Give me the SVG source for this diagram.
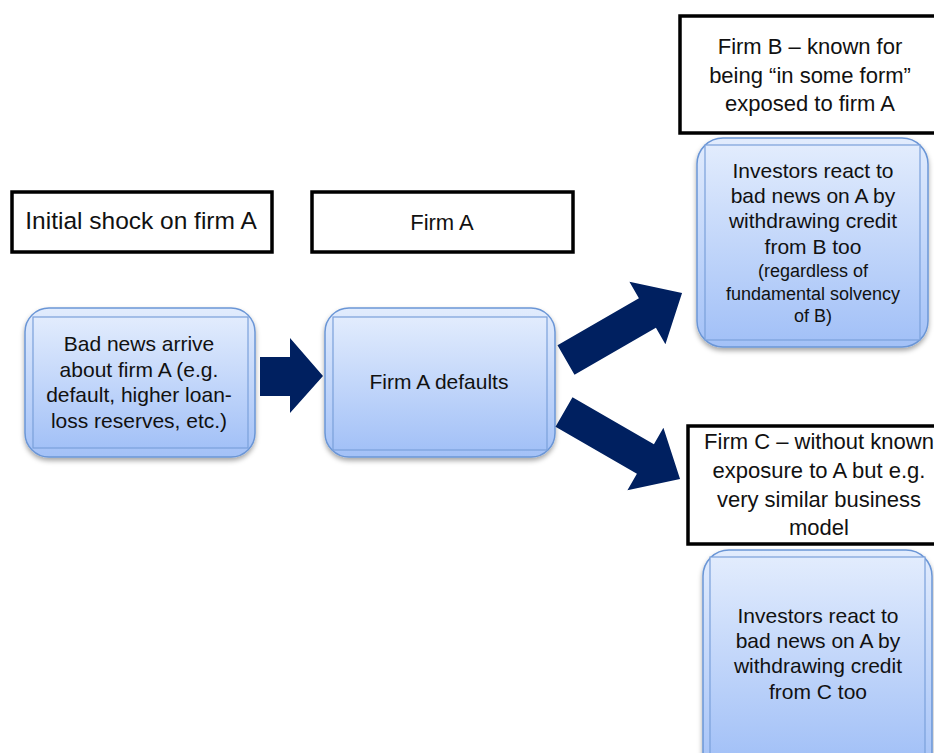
<svg xmlns="http://www.w3.org/2000/svg" width="934" height="753" viewBox="0 0 934 753">
<defs>
<linearGradient id="g" x1="0" y1="0" x2="0" y2="1">
<stop offset="0" stop-color="#e2ecfd"/>
<stop offset="1" stop-color="#a3c1f7"/>
</linearGradient>
<filter id="sh" x="-10%" y="-10%" width="120%" height="125%">
<feDropShadow dx="0" dy="3" stdDeviation="2.5" flood-color="#000" flood-opacity="0.35"/>
</filter>
<style>
.lbl{fill:#fff;stroke:#000;stroke-width:3.5}
.t{font-family:"Liberation Sans",Arial,sans-serif;fill:#111;text-anchor:middle}
.lt{font-size:22px}
.nt{font-size:21px}
.st{font-size:18px}
.outer{fill:url(#g);stroke:#6b96d6;stroke-width:1.5;filter:url(#sh)}
.inner{fill:url(#g);stroke:#7aa0da;stroke-width:1.2}
.arr{fill:#002060}
</style>
</defs>
<rect width="934" height="753" fill="#fff"/>

<g id="label-initial">
<rect class="lbl" x="12" y="192" width="260" height="60"/>
<text class="t" x="141" y="229" font-size="24.5">Initial shock on firm A</text>
</g>

<g id="label-firmA">
<rect class="lbl" x="312" y="192" width="261" height="60"/>
<text class="t lt" x="442" y="230" font-size="23">Firm A</text>
</g>

<g id="label-firmB">
<rect class="lbl" x="680" y="16" width="270" height="117"/>
<text class="t lt" x="810" y="54">Firm B – known for</text>
<text class="t lt" x="810" y="83">being “in some form”</text>
<text class="t lt" x="810" y="111">exposed to firm A</text>
</g>

<g id="label-firmC">
<rect class="lbl" x="688" y="426" width="270" height="118"/>
<text class="t lt" x="819" y="449">Firm C – without known</text>
<text class="t lt" x="819" y="478">exposure to A but e.g.</text>
<text class="t lt" x="819" y="507">very similar business</text>
<text class="t lt" x="819" y="535">model</text>
</g>

<g id="node-badnews">
<rect class="outer" x="25" y="308" width="230" height="149" rx="24"/>
<rect class="inner" x="33" y="317" width="215" height="131"/>
<text class="t nt" x="139" y="351">Bad news arrive</text>
<text class="t nt" x="139" y="377">about firm A (e.g.</text>
<text class="t nt" x="139" y="402">default, higher loan-</text>
<text class="t nt" x="139" y="428">loss reserves, etc.)</text>
</g>

<g id="node-defaults">
<rect class="outer" x="325" y="308" width="230" height="149" rx="24"/>
<rect class="inner" x="333" y="317" width="214" height="133"/>
<text class="t nt" x="439" y="389">Firm A defaults</text>
</g>

<g id="node-B">
<rect class="outer" x="697" y="138" width="231" height="209" rx="26"/>
<rect class="inner" x="705" y="145" width="215" height="195"/>
<text class="t nt" x="813" y="178">Investors react to</text>
<text class="t nt" x="813" y="203">bad news on A by</text>
<text class="t nt" x="813" y="228">withdrawing credit</text>
<text class="t nt" x="813" y="254">from B too</text>
<text class="t st" x="813" y="277">(regardless of</text>
<text class="t st" x="813" y="300">fundamental solvency</text>
<text class="t st" x="813" y="322">of B)</text>
</g>

<g id="node-C">
<rect class="outer" x="703" y="550" width="229" height="230" rx="26"/>
<rect class="inner" x="710" y="557" width="215" height="200"/>
<text class="t nt" x="818" y="623">Investors react to</text>
<text class="t nt" x="818" y="648">bad news on A by</text>
<text class="t nt" x="818" y="673">withdrawing credit</text>
<text class="t nt" x="818" y="699">from C too</text>
</g>

<g id="connectors">
<polygon class="arr" points="260,357 290,357 290,338 323,376 290,413 290,396 260,396"/>
<polygon class="arr" transform="translate(566,360) rotate(-30)" points="0,-17 94,-17 94,-36 134,0 94,36 94,17 0,17"/>
<polygon class="arr" transform="translate(564,412) rotate(30)" points="0,-17 94,-17 94,-36 134,0 94,36 94,17 0,17"/>
</g>
</svg>
